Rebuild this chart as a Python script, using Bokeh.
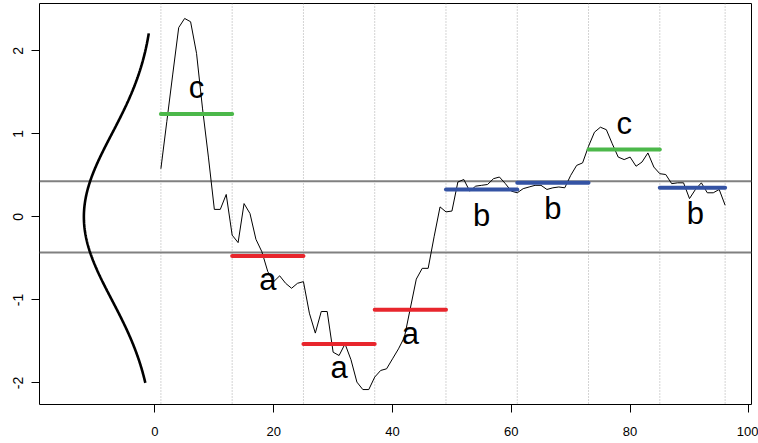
import numpy as np
from bokeh.plotting import figure
from bokeh.models import Span, Range1d, FixedTicker
from bokeh.core.properties import value
from bokeh.embed import file_html
from bokeh.resources import INLINE

# ---- data ----
series = [0.58, 1.15, 1.72, 2.28, 2.39, 2.35, 1.97, 1.31, 0.72, 0.09, 0.09, 0.27,
          -0.22, -0.31, 0.16, 0.04, -0.27, -0.42, -0.66, -0.78, -0.71, -0.80, -0.86, -0.80,
          -0.78, -1.16, -1.40, -1.14, -1.14, -1.63, -1.67, -1.53, -1.72, -1.99, -2.08, -2.08,
          -1.93, -1.85, -1.83, -1.71, -1.59, -1.45, -1.10, -0.75, -0.62, -0.62, -0.24, 0.12,
          0.06, 0.07, 0.42, 0.45, 0.31, 0.37, 0.38, 0.39, 0.46, 0.48, 0.40, 0.31,
          0.29, 0.34, 0.36, 0.38, 0.38, 0.33, 0.35, 0.36, 0.35, 0.50, 0.62, 0.65,
          0.85, 1.02, 1.08, 1.05, 0.88, 0.72, 0.69, 0.72, 0.61, 0.66, 0.77, 0.60,
          0.52, 0.51, 0.40, 0.41, 0.41, 0.22, 0.33, 0.41, 0.29, 0.29, 0.33, 0.14]
time = list(range(1, len(series) + 1))
segment_size = 12
paa_values = [1.24, -0.47, -1.53, -1.12, 0.33, 0.41, 0.81, 0.35]
letters = ["c", "a", "a", "a", "b", "b", "c", "b"]
breakpoints = [-0.43, 0.43]
curve_y_min, curve_y_max = -2.0, 2.21
curve_scale = 30.0
x_ticks = [0, 20, 40, 60, 80, 100]
x_tick_labels = ["0", "20", "40", "60", "80", "100"]
y_ticks = [-2, -1, 0, 1, 2]
y_tick_labels = ["-2", "-1", "0", "1", "2"]

letter_colors = {"a": "#E8262D", "b": "#3453A4", "c": "#4CB84A"}
FONT = "Liberation Sans"

# ---- figure ----
p = figure(width=758, height=441,
           x_range=Range1d(-19.44, 100.44), y_range=Range1d(-2.26, 2.57),
           output_backend="svg", toolbar_location=None,
           min_border_left=39, min_border_right=7, min_border_top=3, min_border_bottom=37)
p.grid.visible = False
p.outline_line_color = "black"
p.outline_line_width = 1
p.background_fill_color = "white"
p.border_fill_color = "white"

for ax, ticks, labels in ((p.xaxis[0], x_ticks, x_tick_labels), (p.yaxis[0], y_ticks, y_tick_labels)):
    ax.ticker = FixedTicker(ticks=ticks)
    ax.major_label_overrides = {t: l for t, l in zip(ticks, labels)}
    ax.axis_line_color = None
    ax.major_tick_in = 0
    ax.major_tick_out = 8
    ax.major_tick_line_color = "black"
    ax.minor_tick_line_color = None
    ax.major_label_text_font = FONT
    ax.major_label_text_color = "black"
p.xaxis.major_label_text_font_size = "13px"
p.yaxis.major_label_text_font_size = "14px"
p.xaxis.major_label_standoff = 14
p.yaxis.major_label_standoff = 8
p.yaxis.major_label_orientation = "vertical"

# segment boundaries
n = len(series)
starts = [1 + i * segment_size for i in range(len(paa_values))]
ends = [min(s + segment_size, n) for s in starts]
bounds = starts + [ends[-1]]
for b in bounds:
    p.add_layout(Span(location=b, dimension="height", line_color="#a8a8a8",
                      line_dash="1 2", line_width=1, level="underlay"))

# breakpoint lines
for b in breakpoints:
    p.add_layout(Span(location=b, dimension="width", line_color="#808080",
                      line_width=2, level="underlay"))

# Gaussian curve
cy = np.linspace(curve_y_min, curve_y_max, 300)
cx = -curve_scale * np.exp(-cy ** 2 / 2) / np.sqrt(2 * np.pi)
p.line(cx, cy, line_color="black", line_width=2.6)

# time series
p.line(time, series, line_color="black", line_width=1)

# PAA bars
colors = [letter_colors[l] for l in letters]
p.segment(x0=starts, y0=paa_values, x1=ends, y1=paa_values,
          line_color=colors, line_width=4, line_cap="round")

# letters
lx = [s + segment_size / 2 for s in starts]
ly = []
for v, l in zip(paa_values, letters):
    if l == "c":
        ly.append(v + 0.32)
    elif l == "a":
        ly.append(v - 0.28)
    else:
        ly.append(v - 0.31)
p.text(x=lx, y=ly, text=letters, text_font=value(FONT), text_font_size="31px",
       text_align="center", text_baseline="middle", text_color="black")

open("out.html", "w").write(file_html(p, INLINE))
